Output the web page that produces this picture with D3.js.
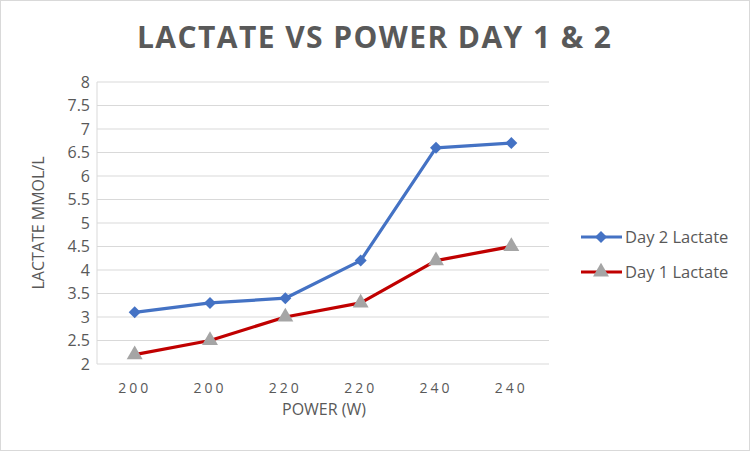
<!DOCTYPE html>
<html><head><meta charset="utf-8">
<script src="https://cdn.jsdelivr.net/npm/d3@7"></script>
<style>body{margin:0;background:#fff}svg{display:block}text{font-family:"Open Sans","Liberation Sans",sans-serif}</style>
</head><body>
<svg id="c" width="750" height="451"></svg>
<script>
const categories = ["200","200","220","220","240","240"];
const day2 = [3.1, 3.3, 3.4, 4.2, 6.6, 6.7];
const day1 = [2.2, 2.5, 3.0, 3.3, 4.2, 4.5];
const yTicks = [2,2.5,3,3.5,4,4.5,5,5.5,6,6.5,7,7.5,8];

const svg = d3.select("#c");
svg.append("rect").attr("x",0.5).attr("y",0.5).attr("width",749).attr("height",450)
  .attr("fill","#fff").attr("stroke","#d9d9d9");

const L=97, R=549, T=82, B=364;
const x = d3.scaleBand().domain(d3.range(categories.length)).range([L,R]);
const y = d3.scaleLinear().domain([2,8]).range([B,T]);
const cx = i => x(i)+x.bandwidth()/2;

// gridlines
svg.append("g").selectAll("line").data(yTicks).join("line")
  .attr("x1",L).attr("x2",R).attr("y1",d=>y(d)).attr("y2",d=>y(d))
  .attr("stroke","#d9d9d9").attr("stroke-width",1.2);
svg.append("line").attr("x1",L).attr("x2",L).attr("y1",T).attr("y2",B).attr("stroke","#d9d9d9");

// y axis
const ya = svg.append("g").attr("transform",`translate(${L-7},0)`)
  .call(d3.axisLeft(y).tickValues(yTicks).tickSize(0).tickPadding(0).tickFormat(d=>String(d)));
ya.select(".domain").remove();
ya.selectAll("text").attr("font-size",16).attr("fill","#595959");

// x axis
const xa = svg.append("g").attr("transform",`translate(0,${B+24})`)
  .call(d3.axisBottom(x).tickFormat(i=>categories[i]).tickSize(0).tickPadding(0));
xa.select(".domain").remove();
xa.selectAll("text").attr("font-size",14).attr("fill","#595959")
  .attr("letter-spacing","3px").attr("dy","0.35em");

// titles
svg.append("text").attr("x",374).attr("y",48).attr("text-anchor","middle")
  .attr("font-size",30).attr("font-weight","bold").attr("fill","#595959")
  .attr("textLength",474).attr("lengthAdjust","spacing")
  .text("LACTATE VS POWER DAY 1 & 2");
svg.append("text").attr("x",(L+R)/2+1).attr("y",415).attr("text-anchor","middle")
  .attr("font-size",16).attr("fill","#595959").text("POWER (W)");
svg.append("text").attr("transform",`translate(44,${(T+B)/2}) rotate(-90)`)
  .attr("text-anchor","middle").attr("font-size",16).attr("fill","#595959").text("LACTATE MMOL/L");

const line = d3.line().x((d,i)=>cx(i)).y(d=>y(d));
// Day 1
svg.append("path").datum(day1).attr("d",line).attr("fill","none")
  .attr("stroke","#c00000").attr("stroke-width",3.2).attr("stroke-linejoin","round");
const tri = d3.symbol().type(d3.symbolTriangle).size(110);
svg.append("g").selectAll("path").data(day1).join("path")
  .attr("d",tri).attr("transform",(d,i)=>`translate(${cx(i)},${y(d)})`).attr("fill","#a5a5a5");
// Day 2
svg.append("path").datum(day2).attr("d",line).attr("fill","none")
  .attr("stroke","#4472c4").attr("stroke-width",3.2).attr("stroke-linejoin","round");
const dia = d3.symbol().type(d3.symbolSquare).size(72);
svg.append("g").selectAll("path").data(day2).join("path")
  .attr("d",dia).attr("transform",(d,i)=>`translate(${cx(i)},${y(d)}) rotate(45)`).attr("fill","#4472c4");

// legend
const leg = [{name:"Day 2 Lactate",c:"#4472c4",m:"d"},{name:"Day 1 Lactate",c:"#c00000",m:"t"}];
leg.forEach((e,k)=>{
  const ly = 237 + k*35;
  svg.append("line").attr("x1",581).attr("x2",622).attr("y1",ly).attr("y2",ly)
    .attr("stroke",e.c).attr("stroke-width",3.2);
  if(e.m==="d") svg.append("path").attr("d",dia).attr("transform",`translate(601,${ly}) rotate(45)`).attr("fill",e.c);
  else svg.append("path").attr("d",tri).attr("transform",`translate(601,${ly})`).attr("fill","#a5a5a5");
  svg.append("text").attr("x",625).attr("y",ly).attr("dy","0.35em").attr("font-size",16.5)
    .attr("fill","#595959").text(e.name);
});
</script>
</body></html>
